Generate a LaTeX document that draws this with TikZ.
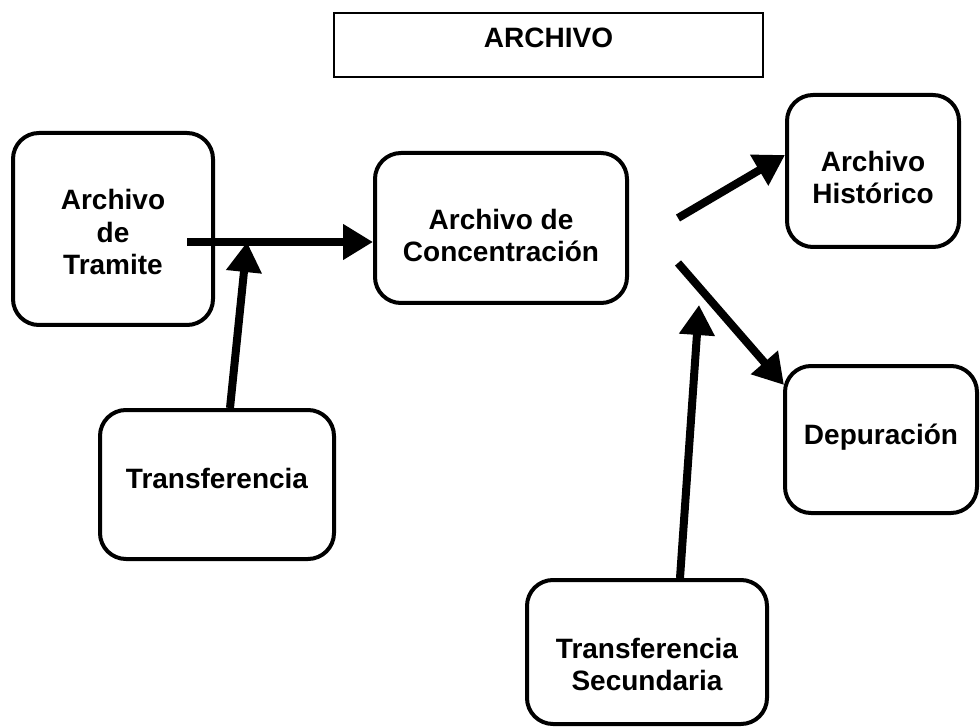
\documentclass[tikz,border=0pt]{standalone}
\usepackage{fontspec}
\setmainfont{Liberation Sans}
\usetikzlibrary{arrows.meta}
\newcommand{\btext}[2]{\raisebox{#1}[\height][\depth]{\begin{tabular}{@{}c@{}}#2\end{tabular}}}
\tikzset{
  box/.style={draw=black, line width=4pt, rounded corners=26pt,
    font=\fontsize{28}{32.5}\selectfont\bfseries, inner sep=0pt},
  titlebox/.style={draw=black, line width=2pt,
    font=\fontsize{28}{32}\selectfont\bfseries, inner sep=0pt},
  flow/.style={line width=8pt, -{Triangle[length=30pt,width=34pt]}}
}
\begin{document}
\begin{tikzpicture}[x=1pt,y=-1pt]
\useasboundingbox (0,0) rectangle (980,727);
\node[titlebox, minimum width=429pt, minimum height=64pt] (title) at (548.5,45) {\btext{3.5pt}{ARCHIVO}};
\node[box, minimum width=200pt, minimum height=192pt] (tram) at (113,229) {\btext{-7pt}{Archivo\\de\\Tramite}};
\node[box, minimum width=252pt, minimum height=150pt] (conc) at (501,228) {\btext{-11pt}{Archivo de\\Concentración}};
\node[box, minimum width=172pt, minimum height=152pt] (hist) at (873,171) {\btext{-10pt}{Archivo\\Histórico}};
\node[box, minimum width=192pt, minimum height=147pt] (dep) at (881,439.5) {\btext{2pt}{Depuración}};
\node[box, minimum width=234pt, minimum height=149pt] (trans) at (217,484.5) {\btext{3pt}{Transferencia}};
\node[box, minimum width=240pt, minimum height=144pt] (tsec) at (647,652) {\btext{-16pt}{Transferencia\\Secundaria}};
% connectors
\coordinate (a1s) at (187,242);
\coordinate (join) at (247,242);
\coordinate (hs) at (678,218);
\coordinate (ds) at (678,263);
\coordinate (tsj) at (699,305);
\coordinate (ht) at (785,155);
\coordinate (dt) at (784,385);
\draw[flow] (a1s) -- (conc.west |- a1s);
\draw[flow] (trans.north -| 230,0) -- (join);
\draw[flow] (hs) -- (ht);
\draw[flow] (ds) -- (dt);
\draw[flow] (tsec.north -| 680,0) -- (tsj);
\end{tikzpicture}
\end{document}
